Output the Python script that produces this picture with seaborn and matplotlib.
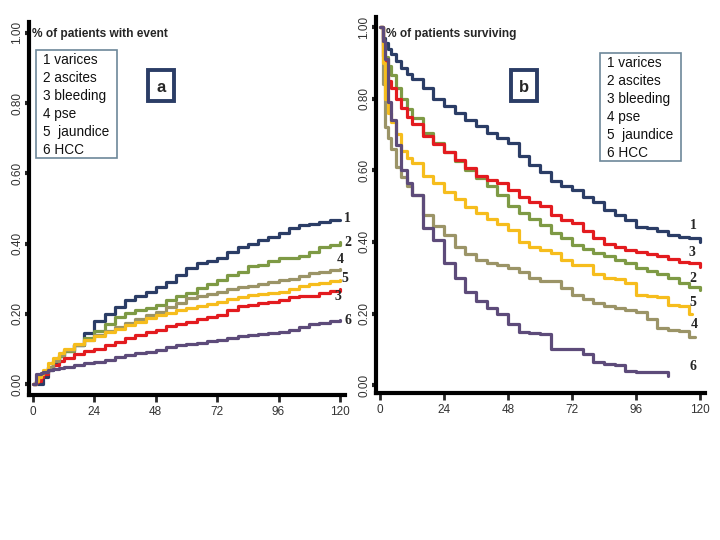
import matplotlib
matplotlib.use("Agg")
import matplotlib.pyplot as plt
import matplotlib.patches as patches
import seaborn as sns
import pandas as pd

# months of follow-up
months = [0, 1, 2, 3, 4, 6, 8, 10, 12, 16, 20, 24, 28, 32, 36, 40, 44, 48, 52, 56,
          60, 64, 68, 72, 76, 80, 84, 88, 92, 96, 100, 104, 108, 112, 116, 120]

names = ["1", "2", "3", "4", "5", "6"]
legend_txt = ["1 varices", "2 ascites", "3 bleeding", "4 pse", "5  jaundice", "6 HCC"]
colors = ["#2b3d66", "#7e9a45", "#e31b1f", "#9b9467", "#f6bd1d", "#5d4b7a"]

# panel a: cumulative proportion with event
event_1 = [0, 0, 0, 0, 0.02, 0.04, 0.06, 0.08, 0.095, 0.11, 0.145, 0.18, 0.20, 0.22, 0.24, 0.25,
           0.262, 0.277, 0.29, 0.31, 0.33, 0.345, 0.35, 0.358, 0.375, 0.39, 0.40, 0.41, 0.42,
           0.43, 0.445, 0.452, 0.455, 0.462, 0.466, 0.468]
event_2 = [0, 0.01, 0.02, 0.03, 0.035, 0.05, 0.065, 0.08, 0.095, 0.11, 0.13, 0.15, 0.17, 0.19,
           0.202, 0.21, 0.218, 0.225, 0.24, 0.25, 0.26, 0.275, 0.285, 0.296, 0.31, 0.32, 0.335,
           0.34, 0.35, 0.358, 0.36, 0.365, 0.375, 0.39, 0.395, 0.405]
event_3 = [0, 0.005, 0.01, 0.02, 0.03, 0.045, 0.055, 0.065, 0.073, 0.085, 0.095, 0.101, 0.11,
           0.12, 0.13, 0.14, 0.148, 0.154, 0.165, 0.172, 0.177, 0.185, 0.192, 0.197, 0.21, 0.222,
           0.225, 0.23, 0.235, 0.24, 0.248, 0.25, 0.252, 0.258, 0.265, 0.272]
event_4 = [0, 0.01, 0.02, 0.03, 0.035, 0.05, 0.065, 0.082, 0.097, 0.11, 0.125, 0.14, 0.152,
           0.163, 0.173, 0.185, 0.196, 0.206, 0.22, 0.232, 0.244, 0.25, 0.257, 0.263, 0.27,
           0.277, 0.28, 0.285, 0.29, 0.296, 0.30, 0.308, 0.315, 0.32, 0.326, 0.328]
event_5 = [0, 0.01, 0.02, 0.03, 0.04, 0.06, 0.075, 0.088, 0.10, 0.115, 0.127, 0.137, 0.148,
           0.158, 0.168, 0.178, 0.188, 0.197, 0.203, 0.21, 0.216, 0.222, 0.228, 0.234, 0.242,
           0.248, 0.253, 0.256, 0.26, 0.263, 0.27, 0.278, 0.284, 0.289, 0.294, 0.297]
event_6 = [0, 0.03, 0.03, 0.032, 0.035, 0.04, 0.043, 0.047, 0.05, 0.055, 0.06, 0.064, 0.07,
           0.077, 0.083, 0.088, 0.092, 0.097, 0.105, 0.11, 0.115, 0.118, 0.122, 0.125, 0.13,
           0.136, 0.14, 0.144, 0.146, 0.149, 0.155, 0.162, 0.17, 0.175, 0.18, 0.182]

# panel b: proportion surviving (None = curve already ended)
surv_1 = [1.0, 0.97, 0.955, 0.94, 0.925, 0.905, 0.885, 0.87, 0.855, 0.83, 0.80, 0.78, 0.76,
          0.74, 0.725, 0.705, 0.69, 0.675, 0.64, 0.615, 0.595, 0.57, 0.555, 0.545, 0.525, 0.51,
          0.49, 0.475, 0.462, 0.442, 0.438, 0.43, 0.42, 0.415, 0.41, 0.40]
surv_2 = [1.0, 0.95, 0.917, 0.89, 0.865, 0.83, 0.80, 0.77, 0.745, 0.705, 0.675, 0.652, 0.625,
          0.60, 0.578, 0.555, 0.53, 0.50, 0.48, 0.465, 0.448, 0.425, 0.41, 0.391, 0.38, 0.37,
          0.36, 0.35, 0.34, 0.326, 0.318, 0.31, 0.298, 0.285, 0.275, 0.265]
surv_3 = [1.0, 0.92, 0.87, 0.85, 0.83, 0.80, 0.775, 0.75, 0.73, 0.695, 0.672, 0.65, 0.628,
          0.605, 0.585, 0.572, 0.565, 0.545, 0.525, 0.512, 0.50, 0.475, 0.46, 0.452, 0.43, 0.41,
          0.395, 0.385, 0.378, 0.372, 0.365, 0.36, 0.352, 0.345, 0.34, 0.33]
surv_4 = [1.0, 0.84, 0.72, 0.69, 0.66, 0.61, 0.58, 0.555, 0.53, 0.475, 0.445, 0.42, 0.385,
          0.365, 0.35, 0.342, 0.335, 0.328, 0.315, 0.30, 0.292, 0.29, 0.27, 0.251, 0.24, 0.228,
          0.22, 0.215, 0.21, 0.205, 0.186, 0.16, 0.155, 0.152, 0.135, None]
surv_5 = [1.0, 0.90, 0.80, 0.76, 0.735, 0.70, 0.655, 0.635, 0.62, 0.585, 0.565, 0.54, 0.52,
          0.498, 0.48, 0.465, 0.45, 0.433, 0.40, 0.385, 0.378, 0.37, 0.35, 0.335, 0.335, 0.31,
          0.30, 0.295, 0.285, 0.252, 0.25, 0.245, 0.225, 0.222, 0.20, None]
surv_6 = [1.0, 0.96, 0.91, 0.79, 0.74, 0.67, 0.60, 0.565, 0.53, 0.44, 0.405, 0.34, 0.30, 0.26,
          0.235, 0.215, 0.20, 0.17, 0.149, 0.146, 0.144, 0.102, 0.102, 0.102, 0.088, 0.065,
          0.058, 0.055, 0.04, 0.037, 0.037, 0.037, 0.025, None, None, None]
# last follow-up time of each survival curve
surv_end = [120, 120, 120, 118, 117, 108]

events = [event_1, event_2, event_3, event_4, event_5, event_6]
survs = [surv_1, surv_2, surv_3, surv_4, surv_5, surv_6]

rows_a = []
for n, vals in zip(names, events):
    for t, v in zip(months, vals):
        rows_a.append((n, t, v))
df_a = pd.DataFrame(rows_a, columns=["group", "month", "value"])

rows_b = []
for n, vals, end in zip(names, survs, surv_end):
    pts = [(t, v) for t, v in zip(months, vals) if v is not None]
    for t, v in pts:
        rows_b.append((n, t, v))
    if end > pts[-1][0]:
        rows_b.append((n, end, pts[-1][1]))
df_b = pd.DataFrame(rows_b, columns=["group", "month", "value"])

sns.set_style("white")
plt.rcParams["font.family"] = ["Liberation Sans", "DejaVu Sans"]

fig = plt.figure(figsize=(7.2, 5.4), dpi=100)
pal = dict(zip(names, colors))

ax_a = fig.add_axes([29 / 720, 145 / 540, 316 / 720, 373 / 540])
ax_b = fig.add_axes([376 / 720, 147 / 540, 329 / 720, 376 / 540])

sns.lineplot(data=df_a, x="month", y="value", hue="group", palette=pal, ax=ax_a,
             drawstyle="steps-post", linewidth=2.3, legend=False, errorbar=None)
sns.lineplot(data=df_b, x="month", y="value", hue="group", palette=pal, ax=ax_b,
             drawstyle="steps-post", linewidth=2.3, legend=False, errorbar=None)

ax_a.set_xlim(-1.56, 122)
ax_a.set_ylim(-0.031, 1.031)
ax_b.set_xlim(-1.5, 121.9)
ax_b.set_ylim(-0.022, 1.028)

yt = [0, 0.2, 0.4, 0.6, 0.8, 1.0]
for ax in (ax_a, ax_b):
    for s in ["top", "right"]:
        ax.spines[s].set_visible(False)
    for s in ["left", "bottom"]:
        ax.spines[s].set_linewidth(3)
        ax.spines[s].set_color("black")
    ax.set_xticks([0, 24, 48, 72, 96, 120])
    ax.set_yticks(yt)
    ax.set_yticklabels(["%.2f" % v for v in yt], rotation=90, va="center")
    ax.tick_params(axis="y", direction="out", length=3, width=3, pad=1,
                   labelsize=8.5, labelcolor="#333333", left=True)
    ax.tick_params(axis="x", direction="out", length=5, width=2, pad=3,
                   labelsize=8.5, labelcolor="#333333", bottom=True)
    ax.set_xlabel("")
    ax.set_ylabel("")
    ax.grid(False)


def fx(x):
    return x / 720


def fy(y):
    return 1 - y / 540


# panel titles
fig.text(fx(32), fy(34), "% of patients with event", fontsize=8.6, fontweight="bold",
         va="center", ha="left")
fig.text(fx(386), fy(34), "% of patients surviving", fontsize=8.6, fontweight="bold",
         va="center", ha="left")

# legend boxes
for x0, y0 in [(36, 50), (600, 53)]:
    fig.patches.append(patches.Rectangle((fx(x0), fy(y0 + 108)), 81 / 720, 108 / 540,
                                         transform=fig.transFigure, fill=False,
                                         edgecolor="#6d8799", linewidth=1.2))
    fig.text(fx(x0 + 7), fy(y0 + 55), "\n".join(legend_txt), fontsize=9.8,
             va="center", ha="left", linespacing=1.38, color="#111111")

# panel letters
for x0, letter in [(148, "a"), (511, "b")]:
    fig.patches.append(patches.Rectangle((fx(x0), fy(101)), 26 / 720, 31 / 540,
                                         transform=fig.transFigure, fill=False,
                                         edgecolor="#2b3d66", linewidth=2.8))
    fig.text(fx(x0 + 13), fy(87), letter, fontsize=12, fontweight="bold",
             ha="center", va="center")

# curve number labels
lab_a = [("1", 347, 219), ("2", 348, 242), ("4", 340, 260), ("5", 345, 278),
         ("3", 338, 297), ("6", 348, 321)]
lab_b = [("1", 693, 225), ("3", 692, 253), ("2", 693, 278), ("5", 693, 303),
         ("4", 694, 325), ("6", 693, 367)]
for t, x, y in lab_a + lab_b:
    fig.text(fx(x), fy(y), t, fontsize=10, fontweight="bold",
             family=["Liberation Serif", "DejaVu Serif"], ha="center", va="center")

fig.savefig("out.png", dpi=100)
